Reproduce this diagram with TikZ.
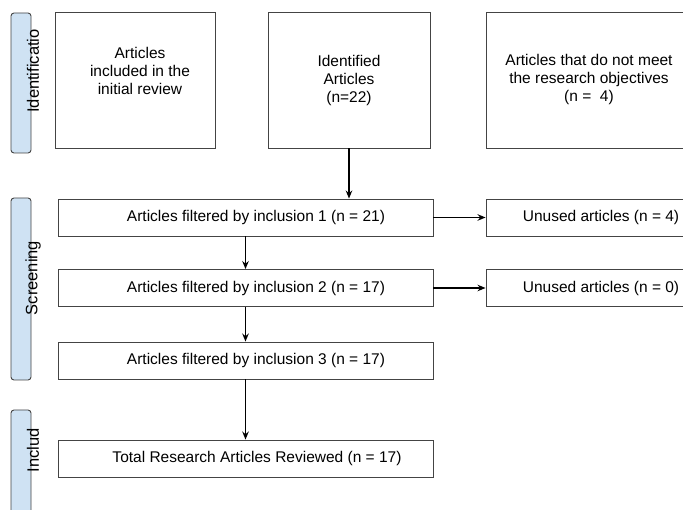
\documentclass[tikz,border=0pt]{standalone}
\usepackage{fontspec}
\setmainfont{Liberation Sans}
\usetikzlibrary{arrows.meta}
\definecolor{tabblue}{HTML}{CFE2F3}
\definecolor{edgegray}{HTML}{444444}
\begin{document}
\begin{tikzpicture}[x=1pt,y=-1pt,
  txt/.style={align=center,font=\fontsize{15.5}{18}\selectfont},
  box/.style={draw=edgegray,line width=0.9pt,txt},
  wide/.style={box,minimum width=375pt,minimum height=37pt},
  tab/.style={draw=edgegray,fill=tabblue,line width=0.9pt,rounded corners=3pt},
  tablabel/.style={rotate=90,font=\fontsize{16.5}{18}\selectfont,inner sep=0pt},
  arr/.style={-{Stealth[length=8pt,width=6.5pt]},line width=1.4pt,black}]
\useasboundingbox (0,0) rectangle (683,510);
% side tabs
\draw[tab] (11,13) rectangle (31,153);
\draw[tab] (11,198) rectangle (31,380);
\draw[tab] (11,410) rectangle (31,530);
\node[tablabel] (lid) at (33,71) {Identificatio};
\node[tablabel] (lsc) at (33,278) {Screening};
\node[tablabel] (lin) at (33,450) {Includ};
% top boxes
\node[box,minimum width=160pt,minimum height=136pt] (b1) at (135,80) {};
\node[txt] (t1) at (140,71) {Articles\\included in the\\initial review};
\node[box,minimum width=162pt,minimum height=136pt] (b2) at (349,80) {Identified\\Articles\\(n=22)};
\node[box,minimum width=220pt,minimum height=136pt] (b3) at (596,80) {};
\node[txt] (t3) at (589,79) {Articles that do not meet\\the research objectives\\(n =\ \ 4)};
% filter boxes
\node[wide] (f1) at (245.5,217.5) {};
\node[txt] (tf1) at (256,217.5) {Articles filtered by inclusion 1 (n = 21)};
\node[wide] (f2) at (245.5,288) {};
\node[txt] (tf2) at (256,288) {Articles filtered by inclusion 2 (n = 17)};
\node[wide] (f3) at (245.5,360.5) {};
\node[txt] (tf3) at (256,360.5) {Articles filtered by inclusion 3 (n = 17)};
\node[wide] (tot) at (245.5,458.5) {};
\node[txt] (ttot) at (257,458.5) {Total Research Articles Reviewed (n = 17)};
% unused boxes
\node[box,minimum width=228pt,minimum height=37pt] (u1) at (600,217.5) {};
\node[txt] (tu1) at (601,217.5) {Unused articles (n = 4)};
\node[box,minimum width=228pt,minimum height=37pt] (u2) at (600,288) {};
\node[txt] (tu2) at (601,288) {Unused articles (n = 0)};
% arrows
\draw[arr] (b2.south) -- (b2.south |- f1.north);
\draw[arr] (f1.east) -- (u1.west);
\draw[arr] (f2.east) -- (u2.west);
\draw[arr] (f1.south) -- (f2.north);
\draw[arr] (f2.south) -- (f3.north);
\draw[arr] (f3.south) -- (tot.north);
\end{tikzpicture}
\end{document}
